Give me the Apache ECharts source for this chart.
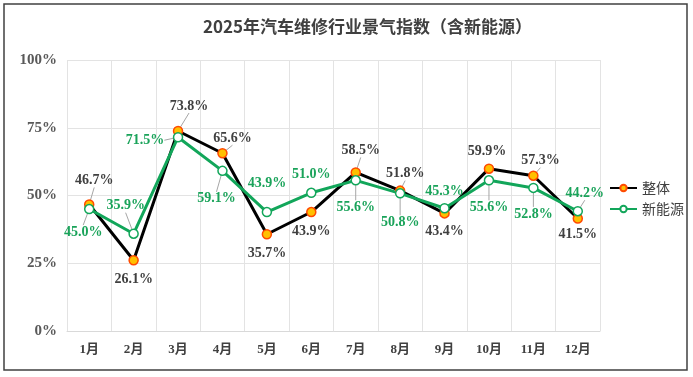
<!DOCTYPE html>
<html>
<head>
<meta charset="utf-8">
<script src="https://cdn.jsdelivr.net/npm/echarts@6/dist/echarts.min.js"></script>
<style>
  html, body { margin: 0; padding: 0; background: #fff; }
  #chart { width: 693px; height: 377px; }
</style>
</head>
<body>
<div id="chart"></div>
<script>
// 数据
var months = ['1月', '2月', '3月', '4月', '5月', '6月', '7月', '8月', '9月', '10月', '11月', '12月'];
var overall = [46.7, 26.1, 73.8, 65.6, 35.7, 43.9, 58.5, 51.8, 43.4, 59.9, 57.3, 41.5];
var nev = [45.0, 35.9, 71.5, 59.1, 43.9, 51.0, 55.6, 50.8, 45.3, 55.6, 52.8, 44.2];
var yMin = 0, yMax = 100, yStep = 25;

// 标签偏移（相对数据点中心）和引导线
var overallOffsets = [[5,-24],[0,19],[11,-25],[10,-15],[0,19],[0,19],[5,-22],[5,-17],[0,18],[-2,-17],[7,-15],[0,16]];
var nevOffsets = [[-6,23],[-8,-28],[-33,3],[-6,28],[0,-29],[0,-18],[0,27],[0,29],[0,-17],[0,27],[0,26],[7,-18]];
var overallGuide = [1,0,1,1,0,0,1,1,0,0,1,0];
var nevGuide = [1,1,1,1,0,0,1,1,0,1,1,1];

var GREEN = '#12a65a';

function buildData(values, guide) {
    return values.map(function (v, i) {
        return { value: v, labelLine: { show: !!guide[i] } };
    });
}

function layoutBy(offsets) {
    return function (params) {
        var o = offsets[params.dataIndex];
        var cx = params.rect.x + params.rect.width / 2;
        var cy = params.rect.y + params.rect.height / 2;
        return { x: cx + o[0], y: cy + o[1], align: 'center', verticalAlign: 'middle' };
    };
}

var labelBase = {
    show: true,
    fontFamily: 'Liberation Serif',
    fontWeight: 'bold',
    fontSize: 14,
    formatter: function (p) { return p.value.toFixed(1) + '%'; }
};

var myChart = echarts.init(document.getElementById('chart'));
var option = {
    backgroundColor: '#fff',
    animation: false,
    title: {
        text: '2025年汽车维修行业景气指数（含新能源）',
        left: 198,
        top: 13,
        textStyle: {
            fontFamily: 'Noto Sans CJK SC',
            fontSize: 17,
            fontWeight: 'bold',
            color: '#404040'
        }
    },
    graphic: [{
        type: 'rect',
        shape: { x: 4, y: 4, width: 683, height: 366 },
        style: { fill: 'none', stroke: '#404040', lineWidth: 1.5 },
        silent: true
    }],
    legend: {
        orient: 'vertical',
        left: 604,
        top: 176,
        itemWidth: 27,
        itemHeight: 8,
        itemGap: 7,
        textStyle: {
            fontFamily: 'Noto Sans CJK SC',
            fontSize: 14,
            color: '#404040'
        },
        data: ['整体', '新能源']
    },
    grid: { left: 67, right: 93, top: 60, bottom: 46 },
    xAxis: {
        type: 'category',
        data: months,
        boundaryGap: true,
        axisLine: { show: true, lineStyle: { color: '#d9d9d9' } },
        axisTick: { show: false },
        splitLine: { show: true, lineStyle: { color: '#e3e3e3' } },
        axisLabel: {
            margin: 12,
            fontFamily: 'Liberation Serif, Noto Sans CJK SC',
            fontWeight: 'bold',
            fontSize: 13,
            color: '#404040',
            interval: 0
        }
    },
    yAxis: {
        type: 'value',
        min: yMin,
        max: yMax,
        interval: yStep,
        axisLine: { show: false },
        axisTick: { show: false },
        splitLine: { lineStyle: { color: '#e3e3e3' } },
        axisLabel: {
            margin: 10,
            fontFamily: 'Liberation Serif',
            fontWeight: 'bold',
            fontSize: 15,
            color: '#595959',
            formatter: '{value}%'
        }
    },
    series: [
        {
            name: '整体',
            type: 'line',
            data: buildData(overall, overallGuide),
            symbol: 'circle',
            symbolSize: 9,
            itemStyle: { color: '#ffc000', borderColor: '#ff4a00', borderWidth: 1.5 },
            lineStyle: { color: '#000', width: 3 },
            label: Object.assign({}, labelBase, { color: '#404040' }),
            labelLine: { show: true, lineStyle: { color: '#a6a6a6', width: 1 } },
            labelLayout: layoutBy(overallOffsets)
        },
        {
            name: '新能源',
            type: 'line',
            data: buildData(nev, nevGuide),
            symbol: 'circle',
            symbolSize: 9,
            itemStyle: { color: '#fff', borderColor: GREEN, borderWidth: 1.5 },
            lineStyle: { color: GREEN, width: 3 },
            label: Object.assign({}, labelBase, { color: '#1aa35a' }),
            labelLine: { show: true, lineStyle: { color: '#a6a6a6', width: 1 } },
            labelLayout: layoutBy(nevOffsets)
        }
    ]
};
myChart.setOption(option);
</script>
</body>
</html>
